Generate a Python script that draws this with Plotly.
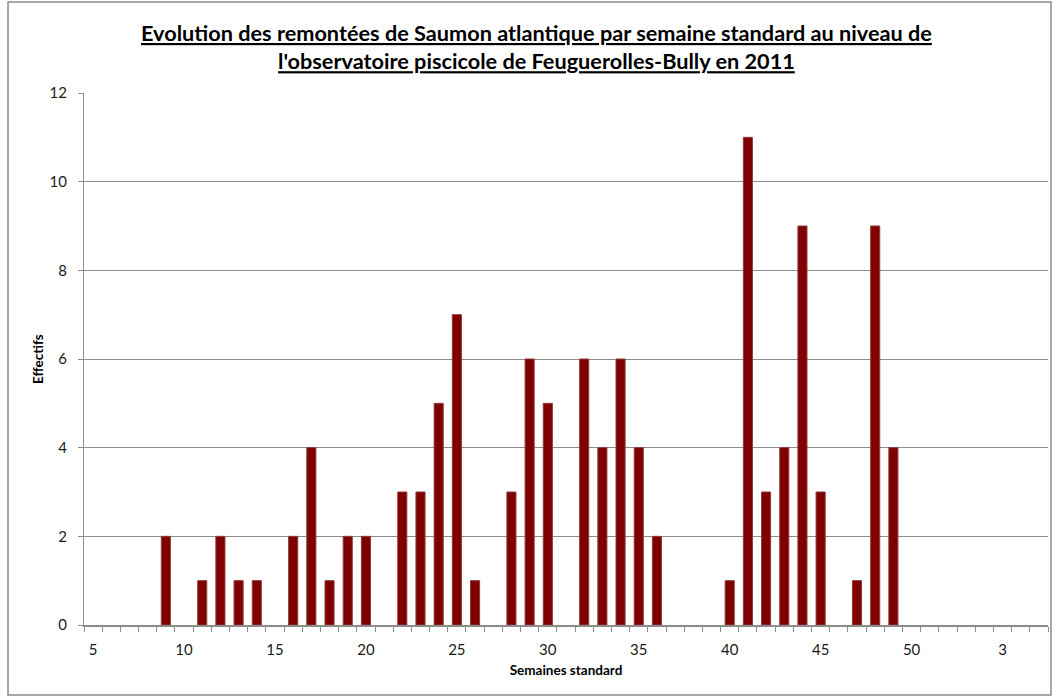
import plotly.graph_objects as go

# Standard weeks shown on the axis (week 5 of 2011 through week 5 of the next year)
weeks = list(range(5, 53)) + list(range(1, 6))

# Salmon counted per standard week (weeks not listed: none recorded)
count_weeks = [9, 11, 12, 13, 14, 16, 17, 18, 19, 20, 22, 23, 24, 25, 26, 28, 29, 30,
               32, 33, 34, 35, 36, 40, 41, 42, 43, 44, 45, 47, 48, 49]
count_values = [2, 1, 2, 1, 1, 2, 4, 1, 2, 2, 3, 3, 5, 7, 1, 3, 6, 5,
                6, 4, 6, 4, 2, 1, 11, 3, 4, 9, 3, 1, 9, 4]

counts = dict(zip(count_weeks, count_values))
positions = list(range(len(weeks)))
# only the 2011 part of the axis (first 48 slots) carries counts; empty weeks draw nothing
values = [counts.get(w) if i < 48 else None for i, w in enumerate(weeks)]

label_pos = positions[::5]
label_text = [str(weeks[i]) for i in label_pos]

FONT = "Lato"
GRID = "#8c8c8c"

fig = go.Figure(
    go.Bar(
        x=positions,
        y=values,
        marker=dict(color="#7f0000", line=dict(color="#8e3b3b", width=1)),
        hovertext=[f"Semaine {w}" for w in weeks],
    )
)

fig.update_layout(
    width=1053,
    height=697,
    paper_bgcolor="white",
    plot_bgcolor="white",
    margin=dict(l=84, r=5, t=93, b=72),
    bargap=0.5,
    showlegend=False,
    font=dict(family=FONT, color="#000000"),
    annotations=[
        dict(
            text="<b><u>Evolution des remontées de Saumon atlantique par semaine standard au niveau de</u></b>"
                 "<br><b><u>l'observatoire piscicole de Feuguerolles-Bully en 2011</u></b>",
            xref="paper", yref="paper", x=0.469, y=1, yshift=75,
            xanchor="center", yanchor="top", showarrow=False,
            font=dict(family=FONT, size=21.7, color="#000000"),
            align="center",
        ),
        dict(
            text="<b>Effectifs</b>",
            xref="paper", yref="paper", x=0, xshift=-46, y=0.5,
            xanchor="center", yanchor="middle", showarrow=False, textangle=-90,
            font=dict(family=FONT, size=13.5, color="#000000"),
        ),
    ],
    shapes=[
        dict(type="rect", xref="paper", yref="paper",
             x0=-76 / 964, x1=1.0 + 3 / 964, y0=-70 / 532, y1=1.0 + 91 / 532,
             line=dict(color="#8c8c8c", width=1.5), fillcolor="rgba(0,0,0,0)", layer="below"),
    ],
)

fig.update_xaxes(
    range=[-0.5, len(weeks) - 0.5],
    tickmode="array",
    tickvals=label_pos,
    ticktext=label_text,
    ticks="",
    ticklabelstandoff=10,
    tickfont=dict(family=FONT, size=15, color="#1a1a1a"),
    showline=True,
    linecolor=GRID,
    linewidth=1.5,
    showgrid=False,
    zeroline=False,
    minor=dict(tickmode="linear", tick0=-0.5, dtick=1, ticks="outside",
               ticklen=5, tickcolor=GRID, tickwidth=1, showgrid=False),
    title=dict(text="<b>Semaines standard</b>", font=dict(family=FONT, size=13.5), standoff=9),
)

fig.update_yaxes(
    range=[0, 12],
    dtick=2,
    tick0=0,
    ticks="outside",
    ticklen=5,
    tickcolor=GRID,
    ticklabelstandoff=8,
    tickfont=dict(family=FONT, size=15, color="#1a1a1a"),
    showline=True,
    linecolor=GRID,
    linewidth=1,
    showgrid=True,
    gridcolor=GRID,
    gridwidth=1,
    zeroline=False,
)

fig.write_html("out.html")
